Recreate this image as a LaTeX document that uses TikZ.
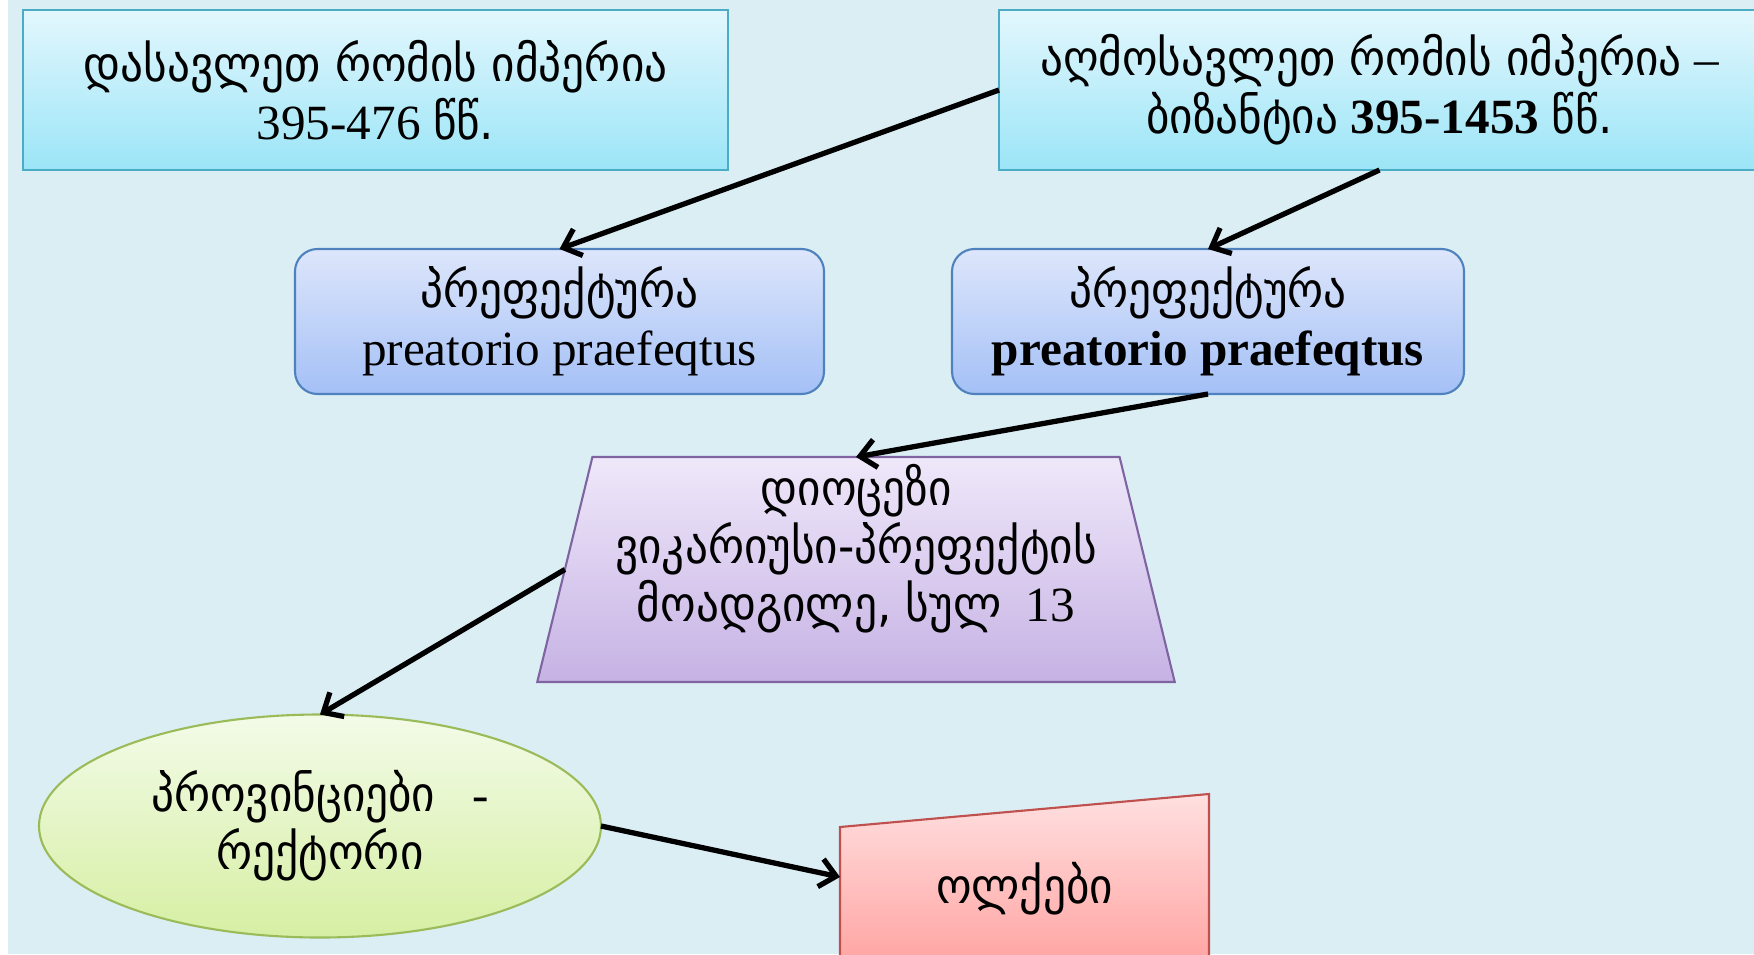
\documentclass[tikz,border=0pt]{standalone}
\usepackage{fontspec}
\setmainfont{Liberation Serif}
\newfontfamily\geo[FakeStretch=0.92]{DejaVu Sans}
\usetikzlibrary{shapes.geometric,arrows.meta,positioning}

\definecolor{bgblue}{HTML}{DBEEF4}
\definecolor{empiretop}{HTML}{E3F7FD}
\definecolor{empirebot}{HTML}{9BE5F7}
\definecolor{empireline}{HTML}{4BACC6}
\definecolor{preftop}{HTML}{DDE6FB}
\definecolor{prefbot}{HTML}{A4C0F6}
\definecolor{prefline}{HTML}{4F81BD}
\definecolor{dioctop}{HTML}{EFE8FA}
\definecolor{diocbot}{HTML}{C6B2E4}
\definecolor{diocline}{HTML}{8064A2}
\definecolor{provtop}{HTML}{F3FBE8}
\definecolor{provbot}{HTML}{D6EFA3}
\definecolor{provline}{HTML}{9BBB59}
\definecolor{distrtop}{HTML}{FFE0E0}
\definecolor{distrbot}{HTML}{FFA4A2}
\definecolor{distrline}{HTML}{C0504D}

\begin{document}
\begin{tikzpicture}[
    every node/.append style={font=\fontsize{28}{33}\selectfont},
    empire/.style={rectangle, draw=empireline, line width=1.2pt, top color=empiretop, bottom color=empirebot, minimum height=3.2cm, inner sep=0pt, outer sep=0pt, align=center},
    prefect/.style={rectangle, rounded corners=0.45cm, draw=prefline, line width=1.2pt, top color=preftop, bottom color=prefbot, minimum height=2.9cm, inner sep=0pt, outer sep=0pt, align=center},
    dioc/.style={trapezium, trapezium left angle=76.5, trapezium right angle=76.5, trapezium stretches=true, draw=diocline, line width=1.2pt, top color=dioctop, bottom color=diocbot, minimum width=12.8cm, minimum height=4.5cm, inner sep=0pt, outer sep=0pt, align=center, text depth=30pt},
    prov/.style={ellipse, draw=provline, line width=1.2pt, top color=provtop, bottom color=provbot, minimum width=11.24cm, minimum height=4.46cm, inner sep=0pt, outer sep=0pt, align=center},
    distr/.style={rectangle, minimum width=7.38cm, minimum height=3.32cm, inner sep=0pt, outer sep=0pt, text height=36pt, text depth=6pt},
    arrow/.style={-{Straight Barb[length=9pt,width=16pt]}, line width=3pt}
]

% Page and background
\useasboundingbox (0,0) rectangle (35.08,-19.08);
\clip (0,0) rectangle (35.08,-19.08);
\fill[bgblue] (0,0) rectangle (35.08,-19.08);
\fill[white] (0,0) rectangle (0.16,-19.08);

% Empires
\node[empire, minimum width=14.1cm] (west) at (7.51,-1.80) {{\geo დასავლეთ რომის იმპერია}\\395-476 {\geo წწ.}};
\node[empire, minimum width=15.22cm, right=5.42cm of west] (east) {{\geo აღმოსავლეთ რომის იმპერია} –\\{\geo ბიზანტია} \textbf{395-1453} {\geo წწ.}};

% Prefectures
\node[prefect, minimum width=10.58cm] (prefwest) at (11.19,-6.43) {{\geo პრეფექტურა}\\preatorio praefeqtus};
\node[prefect, minimum width=10.24cm] (prefeast) at (24.16,-6.43) {{\geo პრეფექტურა}\\\textbf{preatorio praefeqtus}};

% Diocese
\node[dioc] (diocese) at (17.12,-11.39) {{\geo დიოცეზი}\\{\geo ვიკარიუსი-პრეფექტის}\\{\geo მოადგილე, სულ}\ \ 13};

% Provinces
\node[prov] (provinces) at (6.40,-16.52) {{\geo პროვინციები}\ \ \ -\\{\geo რექტორი}};

% Districts (slanted top)
\path[draw=distrline, line width=1.2pt, top color=distrtop, bottom color=distrbot]
    (16.80,-19.30) -- (16.80,-16.54) -- (24.18,-15.88) -- (24.18,-19.30) -- cycle;
\node[distr] (districts) at (20.49,-17.54) {\geo ოლქები};

% Connections
\draw[arrow] (east.west) -- (prefwest.north);
\draw[arrow] (east.south) -- (prefeast.north);
\draw[arrow] (prefeast.south) -- (diocese.top side);
\draw[arrow] (diocese.left side) -- (provinces.north);
\draw[arrow] (provinces.east) -- (districts.west);

\end{tikzpicture}
\end{document}
